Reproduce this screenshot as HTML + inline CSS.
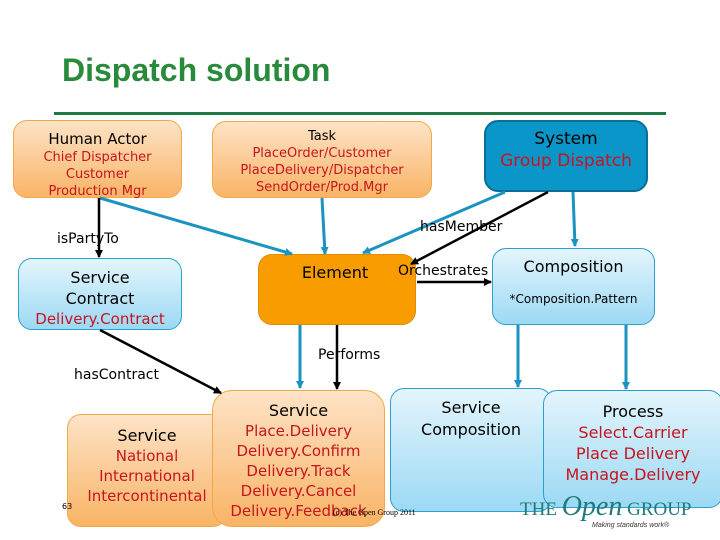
<!DOCTYPE html>
<html><head><meta charset="utf-8"><style>
body{margin:0;width:720px;height:540px;background:#fff;position:relative;overflow:hidden;font-family:"DejaVu Sans","Liberation Sans",sans-serif;}
.b{position:absolute;box-sizing:border-box;border-radius:14px;text-align:center;color:#000;}
.o{background:linear-gradient(#fde3c6,#f9b466);border:1px solid #f0a848;}
.l{background:linear-gradient(#e4f5fc,#9cd9f4);border:1px solid #2b9fcf;}
.r{color:#c8141e;}
.t{position:absolute;font-size:14px;white-space:nowrap;}
</style></head><body>
<div class="t" style="left:62px;top:52px;font:bold 32px 'Liberation Sans',sans-serif;color:#2a8a3c">Dispatch solution</div>
<div style="position:absolute;left:54px;top:112px;width:612px;height:3px;background:#1f7a48"></div>

<div class="b o" style="left:13px;top:120px;width:169px;height:78px;padding-top:8px;font-size:15px;line-height:20px">Human Actor<div class="r" style="font-size:13px;line-height:17px">Chief Dispatcher<br>Customer<br>Production Mgr</div></div>
<div class="b o" style="left:212px;top:121px;width:220px;height:77px;padding-top:6px;font-size:13px;line-height:17px">Task<div class="r">PlaceOrder/Customer<br>PlaceDelivery/Dispatcher<br>SendOrder/Prod.Mgr</div></div>
<div class="b" style="left:484px;top:120px;width:164px;height:72px;background:#0a96c8;border:2px solid #0b6e98;padding-top:6px;font-size:17px;line-height:22px">System<div class="r">Group Dispatch</div></div>
<div class="b l" style="left:18px;top:258px;width:164px;height:72px;padding-top:8px;font-size:16px;line-height:21px">Service<br>Contract<div class="r" style="font-size:15px">Delivery.Contract</div></div>
<div class="b" style="left:258px;top:254px;width:158px;height:71px;background:#f89c00;border:1px solid #e08c00;padding:8px 0 0 0;font-size:16px;text-indent:-4px">Element</div>
<div class="b l" style="left:492px;top:248px;width:163px;height:77px;padding-top:8px;font-size:16px">Composition<div style="font-size:12px;margin-top:16px">*Composition.Pattern</div></div>

<div class="b o" style="left:67px;top:414px;width:160px;height:113px;padding-top:11px;font-size:16px;line-height:20px">Service<div class="r" style="font-size:15px">National<br>International<br>Intercontinental</div></div>
<div class="b o" style="left:212px;top:390px;width:173px;height:137px;padding-top:10px;font-size:16px;line-height:20px;border-radius:20px">Service<div class="r" style="font-size:15px">Place.Delivery<br>Delivery.Confirm<br>Delivery.Track<br>Delivery.Cancel<br>Delivery.Feedback</div></div>
<div class="b l" style="left:390px;top:388px;width:162px;height:124px;padding-top:8px;font-size:16px;line-height:22px">Service<br>Composition</div>
<div class="b l" style="left:543px;top:390px;width:180px;height:118px;padding-top:10px;font-size:16px;line-height:21px">Process<div class="r">Select.Carrier<br>Place Delivery<br>Manage.Delivery</div></div>

<svg style="position:absolute;left:0;top:0" width="720" height="540">
<defs>
<marker id="bl" markerWidth="8" markerHeight="8" refX="7" refY="4" orient="auto" markerUnits="userSpaceOnUse"><path d="M0,0 L8,4 L0,8 z" fill="#1a93c0"/></marker>
<marker id="bk" markerWidth="8" markerHeight="8" refX="7" refY="4" orient="auto" markerUnits="userSpaceOnUse"><path d="M0,0 L8,4 L0,8 z" fill="#000"/></marker>
</defs>
<g stroke="#1a93c0" stroke-width="3" fill="none" marker-end="url(#bl)">
<line x1="100" y1="198" x2="292" y2="254"/>
<line x1="322" y1="198" x2="325" y2="254"/>
<line x1="505" y1="192" x2="363" y2="253"/>
<line x1="573" y1="192" x2="575" y2="246"/>
<line x1="300" y1="325" x2="300" y2="388"/>
<line x1="518" y1="325" x2="518" y2="387"/>
<line x1="626" y1="325" x2="626" y2="389"/>
</g>
<g stroke="#000" stroke-width="2.5" fill="none" marker-end="url(#bk)">
<line x1="99" y1="198" x2="99" y2="257"/>
<line x1="548" y1="192" x2="411" y2="264"/>
<line x1="417" y1="282" x2="491" y2="282"/>
<line x1="337" y1="325" x2="337" y2="389"/>
<line x1="100" y1="330" x2="221" y2="393"/>
</g>
</svg>
<div class="t" style="left:57px;top:231px">isPartyTo</div>
<div class="t" style="left:420px;top:219px">hasMember</div>
<div class="t" style="left:398px;top:263px">Orchestrates</div>
<div class="t" style="left:318px;top:347px">Performs</div>
<div class="t" style="left:74px;top:367px">hasContract</div>
<div class="t" style="left:62px;top:502px;font-size:8px">63</div>
<div class="t" style="left:333px;top:508px;font:8px 'Liberation Serif',serif">(c) The Open Group 2011</div>
<div class="t" style="left:520px;top:494px;font:19px 'Liberation Serif',serif;color:#1f7a7a;line-height:26px">THE <i style="font-size:28px">Open</i> GROUP</div>
<div class="t" style="left:592px;top:522px;font:italic 7px 'Liberation Sans',sans-serif;color:#333">Making standards work®</div>
</body></html>
